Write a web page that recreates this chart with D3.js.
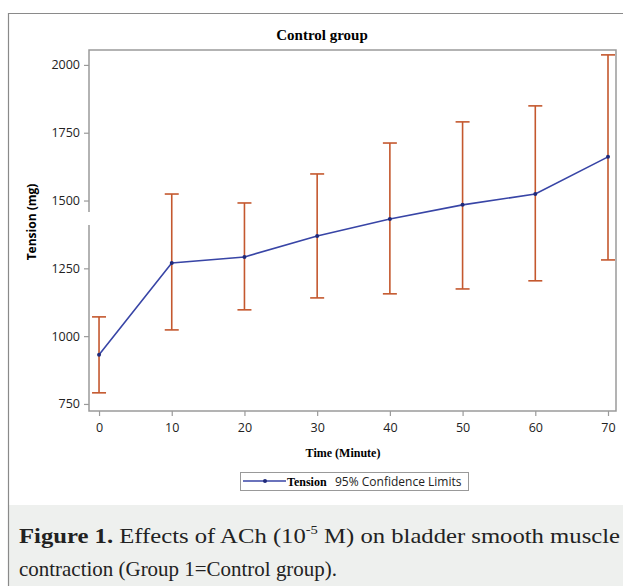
<!DOCTYPE html>
<html><head><meta charset="utf-8">
<script src="https://cdn.jsdelivr.net/npm/d3@7"></script>
<style>body{margin:0;background:#fff}svg{display:block}</style>
</head><body>
<svg id="c" width="623" height="586"></svg>
<script>
const times = [0, 10, 20, 30, 40, 50, 60, 70];
const tension = [931, 1270, 1292, 1369, 1432, 1484, 1524, 1661];
const upper = [1071, 1524, 1491, 1598, 1712, 1790, 1849, 2037];
const lower = [791, 1023, 1097, 1141, 1156, 1174, 1204, 1281];
const xTicks = [0, 10, 20, 30, 40, 50, 60, 70];
const yTicks = [750, 1000, 1250, 1500, 1750, 2000];

const svg = d3.select("#c");
const L = 89, R = 616, T = 50, B = 411;
const x = d3.scaleLinear().domain([-1.38, 71.1]).range([L, R]);
const y = d3.scaleLinear().domain([724, 2055]).range([B, T]);
const frame = "#9a9a9a";

// outer border + caption background
svg.append("rect").attr("x", 9).attr("y", 505).attr("width", 620).attr("height", 90).attr("fill", "#eef0ee");
svg.append("path").attr("d", "M8.5,600 V13.5 H630").attr("fill", "none").attr("stroke", "#8a8a8a").attr("stroke-width", 1.2);

// title
svg.append("text").attr("x", 322).attr("y", 40).attr("text-anchor", "middle")
  .attr("font-family", "Liberation Serif").attr("font-weight", "bold").attr("font-size", 15).text("Control group");

// axes
const yAxis = d3.axisLeft(y).tickValues(yTicks).tickFormat(d3.format("d")).tickSize(5).tickPadding(4);
const xAxis = d3.axisBottom(x).tickValues(xTicks).tickFormat(d3.format("d")).tickSize(5).tickPadding(7);
const gy = svg.append("g").attr("transform", `translate(${L},0)`).call(yAxis);
const gx = svg.append("g").attr("transform", `translate(0,${B})`).call(xAxis);
[gx, gy].forEach(g => {
  g.select(".domain").remove();
  g.selectAll(".tick line").attr("stroke", frame).attr("stroke-width", 1.2);
  g.selectAll(".tick text").attr("font-family", "Open Sans").attr("font-size", 12.5).attr("fill", "#222");
});

// frame with broken left edge
const fr = svg.append("g").attr("fill", "none").attr("stroke", frame).attr("stroke-width", 1.5);
fr.append("path").attr("d", `M${L},212 V${T} H${R} V${B} H${L} V225`);

// error bars
const err = svg.append("g").attr("stroke", "#c4582e").attr("stroke-width", 1.6).attr("fill", "none");
times.forEach((t, i) => {
  const cx = x(t);
  err.append("line").attr("x1", cx).attr("x2", cx).attr("y1", y(lower[i])).attr("y2", y(upper[i]));
  err.append("line").attr("x1", cx - 7).attr("x2", cx + 7).attr("y1", y(lower[i])).attr("y2", y(lower[i]));
  err.append("line").attr("x1", cx - 7).attr("x2", cx + 7).attr("y1", y(upper[i])).attr("y2", y(upper[i]));
});

// mean line
const line = d3.line().x((d, i) => x(times[i])).y(d => y(d));
svg.append("path").datum(tension).attr("d", line).attr("fill", "none").attr("stroke", "#3845a6").attr("stroke-width", 1.6);
svg.append("g").selectAll("circle").data(tension).join("circle")
  .attr("cx", (d, i) => x(times[i])).attr("cy", d => y(d)).attr("r", 2).attr("fill", "#1f2a7a");

// axis labels
svg.append("text").attr("x", 343).attr("y", 457).attr("text-anchor", "middle")
  .attr("font-family", "Liberation Serif").attr("font-weight", "bold").attr("font-size", 12).text("Time (Minute)");
svg.append("text").attr("transform", "translate(36,222) rotate(-90)").attr("text-anchor", "middle")
  .attr("font-family", "Open Sans").attr("font-weight", "bold").attr("font-size", 12).text("Tension (mg)");

// legend
const lg = svg.append("g");
lg.append("rect").attr("x", 240.5).attr("y", 472.5).attr("width", 228).attr("height", 18).attr("fill", "#fff").attr("stroke", "#999");
lg.append("line").attr("x1", 243).attr("x2", 286).attr("y1", 481).attr("y2", 481).attr("stroke", "#3845a6").attr("stroke-width", 1.6);
lg.append("circle").attr("cx", 265).attr("cy", 481).attr("r", 2).attr("fill", "#1f2a7a");
lg.append("text").attr("x", 287).attr("y", 486).attr("font-family", "Liberation Serif").attr("font-weight", "bold").attr("font-size", 12).text("Tension");
lg.append("text").attr("x", 335).attr("y", 486).attr("font-family", "Open Sans").attr("font-size", 12).attr("fill", "#222").text("95% Confidence Limits");

// caption
const cap = svg.append("g").attr("font-family", "Liberation Serif").attr("font-size", 22).attr("fill", "#222");
const t1 = cap.append("text").attr("x", 19).attr("y", 543).attr("textLength", 601).attr("lengthAdjust", "spacingAndGlyphs");
t1.append("tspan").attr("font-weight", "bold").text("Figure 1.");
t1.append("tspan").text(" Effects of ACh (10");
t1.append("tspan").attr("font-size", 13).attr("dy", -9).text("-5");
t1.append("tspan").attr("dy", 9).text(" M) on bladder smooth muscle");
cap.append("text").attr("x", 19).attr("y", 576).attr("textLength", 318).attr("lengthAdjust", "spacingAndGlyphs")
  .text("contraction (Group 1=Control group).");
</script>
</body></html>
